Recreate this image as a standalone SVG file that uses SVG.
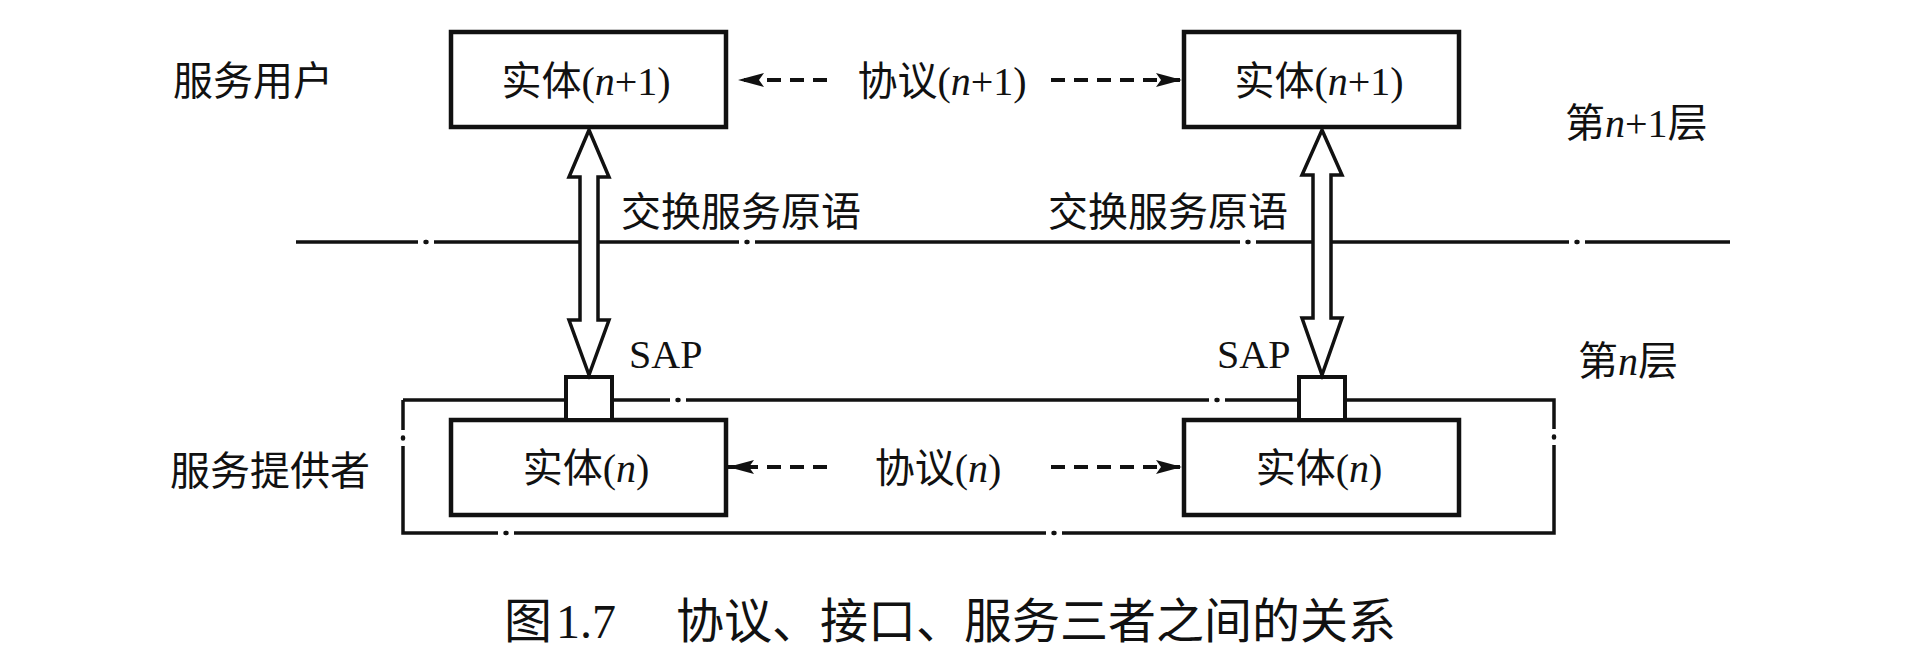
<svg xmlns="http://www.w3.org/2000/svg" width="1928" height="664" viewBox="0 0 1928 664">
  <style>
    .box { fill: #fff; stroke: #111; stroke-width: 4.5; }
    .sap { fill: #fff; stroke: #111; stroke-width: 4; }
    .ln { stroke: #111; stroke-width: 3.5; fill: none; }
    .dot { stroke: #111; stroke-width: 4.5; stroke-linecap: round; }
    .dash { stroke: #111; stroke-width: 3.8; fill: none; stroke-dasharray: 14 9; }
    .hollow { fill: #fff; stroke: #111; stroke-width: 3.5; stroke-linejoin: miter; }
    text { font-family: "Liberation Serif", "Noto Sans CJK SC", serif; font-size: 40px; fill: #111; }
    .c { text-anchor: middle; }
    .cap { font-size: 48px; }
    .it { font-style: italic; }
  </style>
  <defs>
    <marker id="ah" markerUnits="userSpaceOnUse" markerWidth="28" markerHeight="14" refX="26" refY="7" orient="auto" viewBox="0 0 28 14">
      <path d="M0,0 L26,7 L0,14 L5,7 z" fill="#111"/>
    </marker>
  </defs>
  <rect x="0" y="0" width="1928" height="664" fill="#fff"/>

  <g id="layer-line">
    <path class="ln" d="M296,242 H418 M434,242 H739 M755,242 H1240 M1256,242 H1569 M1585,242 H1730" stroke-width="4"/>
    <path class="dot" d="M425.5,242 h1 M746.5,242 h1 M1247.5,242 h1 M1576.5,242 h1"/>
  </g>

  <g id="provider-frame">
    <path class="ln" d="M403,400 H670 M686,400 H1209 M1225,400 H1554 V429 M1554,445 V533 H1062 M1046,533 H514 M498,533 H403 V446 M403,430 V400"/>
    <path class="dot" d="M677.5,400 h1 M1216.5,400 h1 M1554,436.5 v1 M1053.5,533 h1 M505.5,533 h1 M403,437.5 v1"/>
  </g>

  <g id="entity-n1-left">
    <rect class="box" x="451" y="32" width="275" height="95"/>
    <text class="c" x="586" y="95">实体(<tspan class="it">n</tspan>+1)</text>
  </g>
  <g id="entity-n1-right">
    <rect class="box" x="1184" y="32" width="275" height="95"/>
    <text class="c" x="1319" y="95">实体(<tspan class="it">n</tspan>+1)</text>
  </g>
  <g id="entity-n-left">
    <rect class="box" x="451" y="420" width="275" height="95"/>
    <text class="c" x="586" y="482">实体(<tspan class="it">n</tspan>)</text>
  </g>
  <g id="entity-n-right">
    <rect class="box" x="1184" y="420" width="275" height="95"/>
    <text class="c" x="1319" y="482">实体(<tspan class="it">n</tspan>)</text>
  </g>

  <g id="sap-left">
    <rect class="sap" x="566" y="377" width="46" height="43"/>
    <text x="629" y="368">SAP</text>
  </g>
  <g id="sap-right">
    <rect class="sap" x="1299" y="377" width="46" height="43"/>
    <text x="1217" y="368">SAP</text>
  </g>

  <g id="connectors">
    <polygon class="hollow" points="589,130 609,177 598,177 598,320 609,320 589,375 569,320 580,320 580,177 569,177"/>
    <polygon class="hollow" points="1322,130 1342,175 1331,175 1331,318 1342,318 1322,375 1302,318 1313,318 1313,175 1302,175"/>
    <path class="dash" d="M827,80 H738" marker-end="url(#ah)"/>
    <path class="dash" d="M1051,80 H1182" marker-end="url(#ah)"/>
    <path class="dash" d="M827,467 H728" marker-end="url(#ah)"/>
    <path class="dash" d="M1051,467 H1182" marker-end="url(#ah)"/>
  </g>

  <g id="labels">
    <text x="173" y="95">服务用户</text>
    <text x="170" y="485">服务提供者</text>
    <text class="c" x="942" y="95">协议(<tspan class="it">n</tspan>+1)</text>
    <text class="c" x="938" y="482">协议(<tspan class="it">n</tspan>)</text>
    <text x="621" y="226">交换服务原语</text>
    <text x="1048" y="226">交换服务原语</text>
    <text x="1565" y="137">第<tspan class="it">n</tspan>+1层</text>
    <text x="1578" y="375">第<tspan class="it">n</tspan>层</text>
  </g>

  <g id="caption">
    <text class="cap" x="504" y="638">图</text>
    <text class="cap" x="556" y="638">1.7</text>
    <text class="cap" x="676" y="638">协议、接口、服务三者之间的关系</text>
  </g>
</svg>
